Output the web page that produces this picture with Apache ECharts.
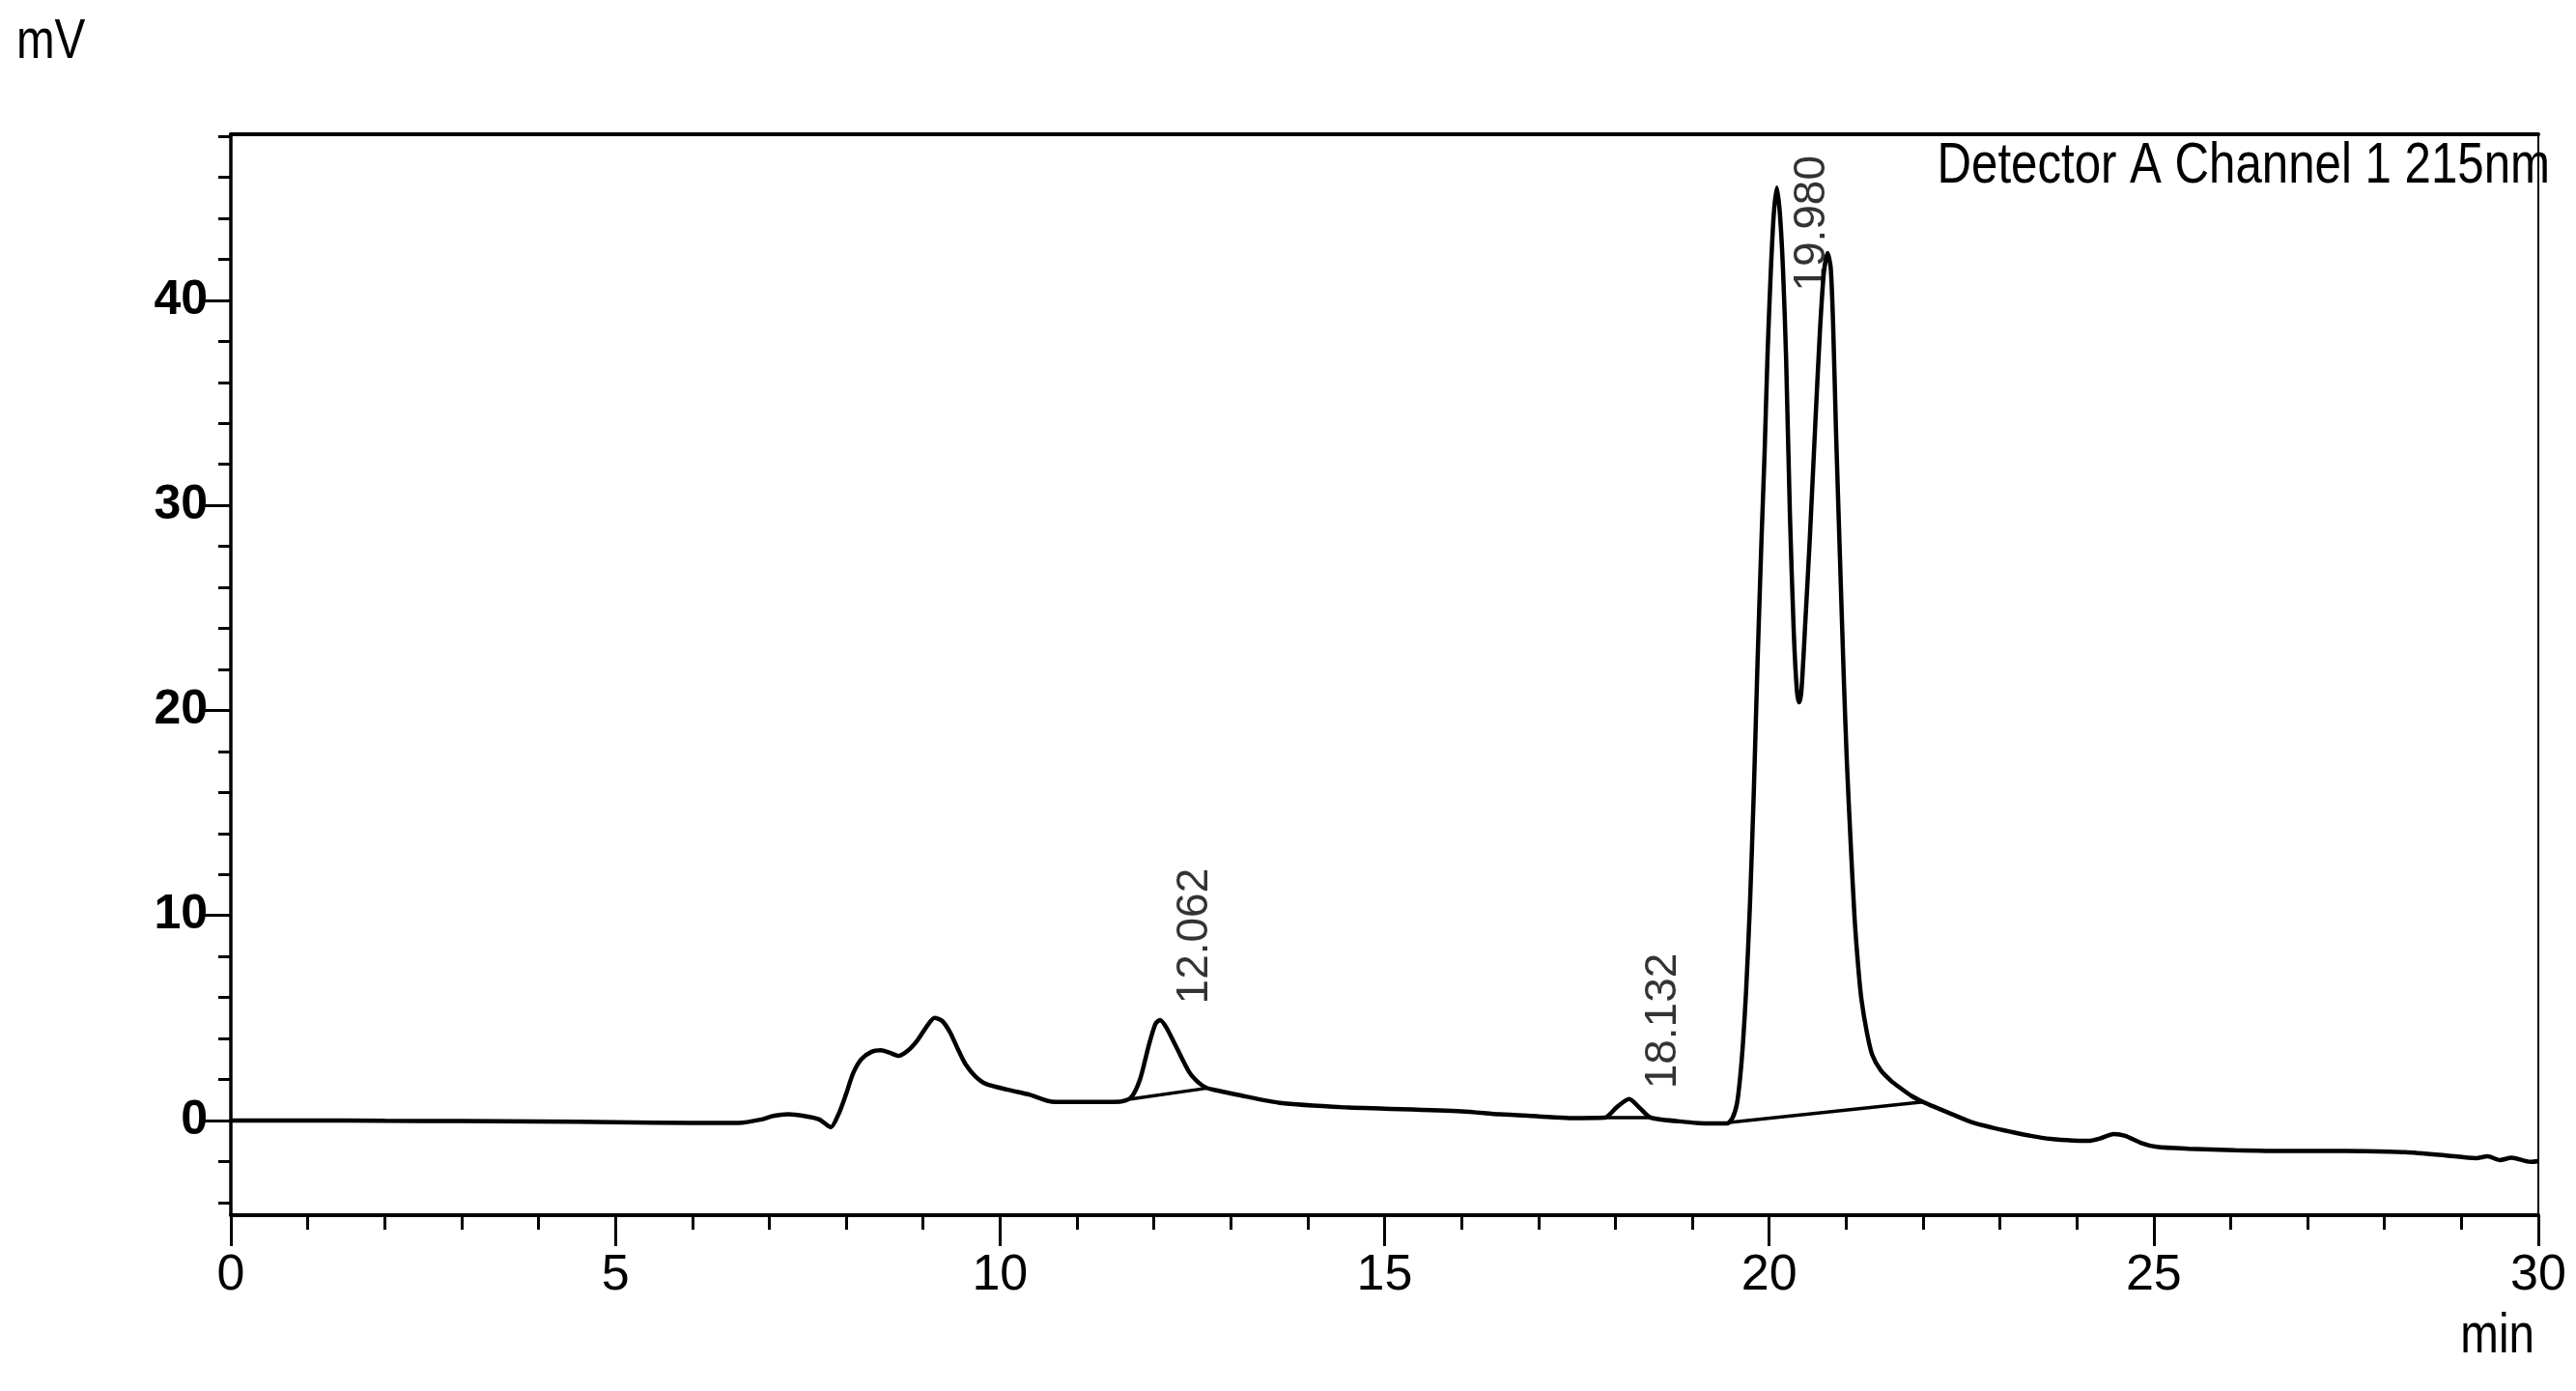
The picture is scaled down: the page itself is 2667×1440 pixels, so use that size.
<!DOCTYPE html>
<html><head><meta charset="utf-8">
<script src="https://cdn.jsdelivr.net/npm/echarts@6/dist/echarts.min.js"></script>
<style>html,body{margin:0;padding:0;background:#fff}#c{width:2667px;height:1440px}</style>
</head><body><div id="c"></div>
<script>
// ---- data ----
const timeMin = [0,1,2,3,4,5,6,6.6,6.9,7.05,7.25,7.45,7.65,7.8,7.9,8.0,8.09,8.2,8.33,8.45,8.57,8.68,8.8,8.93,9.05,9.15,9.25,9.35,9.45,9.55,9.68,9.82,10.1,10.39,10.67,11.0,11.56,11.7,11.82,11.93,12.02,12.08,12.16,12.29,12.46,12.58,12.68,12.8,13.08,13.64,14.53,15.0,16.0,16.5,17.0,17.4,17.86,18.02,18.18,18.32,18.46,18.94,19.2,19.45,19.52,19.58,19.62,19.66,19.7,19.75,19.8,19.85,19.9,19.94,19.98,20.02,20.06,20.1,20.14,20.18,20.22,20.27,20.32,20.36,20.39,20.42,20.47,20.53,20.6,20.66,20.71,20.76,20.8,20.83,20.87,20.92,20.97,21.01,21.06,21.11,21.16,21.2,21.27,21.34,21.45,21.58,21.7,21.85,22.0,22.12,22.33,22.63,22.9,23.14,23.4,23.66,23.95,24.17,24.3,24.48,24.63,24.84,25.04,25.45,26.06,26.73,27.24,27.76,28.27,28.78,29.19,29.34,29.5,29.65,29.9,30.0];
const signalMv = [0,0,-0.02,-0.03,-0.05,-0.08,-0.12,-0.12,0.05,0.22,0.3,0.22,0.05,-0.33,0.3,1.3,2.3,3.0,3.35,3.42,3.3,3.15,3.4,3.93,4.6,5.0,4.85,4.3,3.5,2.75,2.15,1.78,1.5,1.25,0.92,0.9,0.92,1.1,2.0,3.6,4.7,4.9,4.55,3.6,2.36,1.85,1.6,1.48,1.26,0.86,0.63,0.58,0.45,0.3,0.2,0.12,0.14,0.65,1.04,0.6,0.14,-0.08,-0.15,-0.15,0.1,0.8,2.0,3.8,6.3,10.5,16.0,22.5,28.3,32.5,37.5,41.3,44.2,45.5,44.2,41.5,37.2,29.5,23.8,21.0,20.4,21.0,24.3,28.5,34.0,38.5,41.3,42.3,41.6,39.0,33.5,27.5,21.6,17.5,13.5,9.9,7.4,5.9,4.3,3.2,2.45,1.95,1.6,1.2,0.9,0.71,0.38,-0.08,-0.35,-0.55,-0.75,-0.9,-0.98,-0.99,-0.88,-0.66,-0.75,-1.1,-1.29,-1.38,-1.45,-1.49,-1.49,-1.5,-1.55,-1.7,-1.84,-1.75,-1.93,-1.82,-2.02,-1.98];

// integration baselines (start/end)
const baseline1Time = [11.7, 12.68];
const baseline1Mv = [1.05, 1.57];
const baseline2Time = [17.86, 18.46];
const baseline2Mv = [0.14, 0.14];
const baseline3Time = [19.48, 22.0];
const baseline3Mv = [-0.1, 0.9];

// peak labels and apexes
const peakLabels = ['12.062', '18.132', '19.980'];
const peakApexTime = [12.08, 18.18, 20.1];
const peakApexMv = [4.9, 1.04, 45.5];

// axes
const xRange = [0, 30];
const yRange = [-4.62, 48.1];
const yMajorTicks = [0, 10, 20, 30, 40];
const yMinorTicks = [-4,-2,0,2,4,6,8,10,12,14,16,18,20,22,24,26,28,30,32,34,36,38,40,42,44,46,48];
const yUnit = 'mV';
const xUnit = 'min';
const detectorText = 'Detector A Channel 1 215nm';

// ---- chart ----
const SANS = "'Liberation Sans',Arial,sans-serif";
const pair = (xs, ys) => xs.map((x, i) => [x, ys[i]]);
const labelPos = [[37, -16], [36, -10], [37, 108]];
const narrowText = (text, x, y, align, size) => ({
  type: 'text', x: x, y: y, scaleX: 0.82, silent: true, z: 10,
  style: {text: text, fontFamily: SANS, fontSize: size, fill: '#000',
          align: align, textAlign: align, verticalAlign: 'middle', textVerticalAlign: 'middle'}
});

const chart = echarts.init(document.getElementById('c'), null, {renderer: 'canvas'});
chart.setOption({
  animation: false,
  backgroundColor: '#fff',
  graphic: [
    narrowText(yUnit, 17, 44, 'left', 58),
    narrowText(detectorText, 2640, 172, 'right', 60),
    narrowText(xUnit, 2624, 1384, 'right', 58)
  ],
  grid: {left: 239, right: 39, top: 139, bottom: 182, show: true, borderColor: '#000', borderWidth: 2, containLabel: false},
  xAxis: [{
    type: 'value', min: xRange[0], max: xRange[1], interval: 5, position: 'bottom',
    axisLine: {onZero: false, lineStyle: {color: '#000', width: 4}},
    axisTick: {show: true, length: 32, lineStyle: {color: '#000', width: 3}},
    minorTick: {show: true, splitNumber: 5, length: 15, lineStyle: {color: '#000', width: 3}},
    axisLabel: {margin: 37, fontFamily: SANS, fontSize: 52, color: '#000'},
    splitLine: {show: false}, minorSplitLine: {show: false}
  }, {
    type: 'value', min: xRange[0], max: xRange[1], position: 'top',
    axisLine: {onZero: false, lineStyle: {color: '#000', width: 4}},
    axisTick: {show: false}, axisLabel: {show: false}, splitLine: {show: false}
  }],
  yAxis: [{
    type: 'value', min: yRange[0], max: yRange[1], position: 'left',
    axisLine: {onZero: false, lineStyle: {color: '#000', width: 3.5}},
    axisTick: {show: true, length: 27, customValues: yMajorTicks, lineStyle: {color: '#000', width: 3}},
    axisLabel: {margin: 24, customValues: yMajorTicks, fontFamily: SANS, fontWeight: 'bold', fontSize: 50, color: '#000'},
    splitLine: {show: false}
  }, {
    type: 'value', min: yRange[0], max: yRange[1], position: 'left',
    axisLine: {show: false, onZero: false},
    axisTick: {show: true, length: 13, customValues: yMinorTicks, lineStyle: {color: '#000', width: 3}},
    axisLabel: {show: false}, splitLine: {show: false}
  }],
  series: [
    {type: 'line', xAxisIndex: 0, yAxisIndex: 0, data: pair(timeMin, signalMv), showSymbol: false, smooth: 0.25,
     lineStyle: {color: '#000', width: 4.5}, silent: true, z: 3},
    {type: 'line', data: pair(baseline1Time, baseline1Mv), showSymbol: false, lineStyle: {color: '#000', width: 3.5}, silent: true},
    {type: 'line', data: pair(baseline2Time, baseline2Mv), showSymbol: false, lineStyle: {color: '#000', width: 3.5}, silent: true},
    {type: 'line', data: pair(baseline3Time, baseline3Mv), showSymbol: false, lineStyle: {color: '#000', width: 3.5}, silent: true},
    {type: 'scatter', symbolSize: 1, itemStyle: {color: 'rgba(0,0,0,0)'}, silent: true, z: 5,
     data: peakLabels.map((l, i) => ({
       value: [peakApexTime[i], peakApexMv[i]], name: l,
       label: {show: true, position: labelPos[i], rotate: 90, align: 'left', verticalAlign: 'middle',
               formatter: l, fontFamily: SANS, fontSize: 46, color: '#000'}
     }))}
  ]
});
</script>
</body></html>
